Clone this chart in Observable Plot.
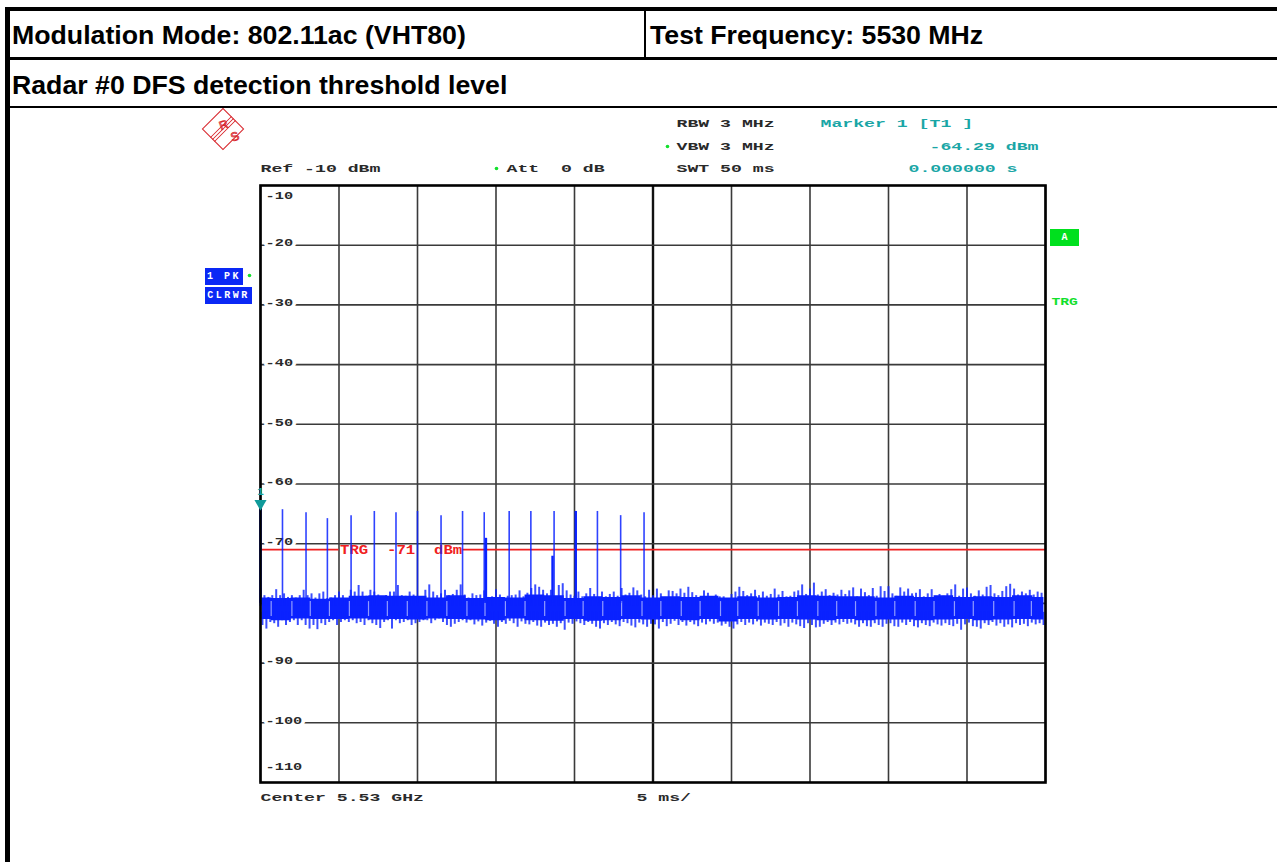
<!DOCTYPE html>
<html>
<head>
<meta charset="utf-8">
<script src="https://cdn.jsdelivr.net/npm/d3@7"></script>
<script src="https://cdn.jsdelivr.net/npm/@observablehq/plot@0.6"></script>
<style>
html,body{margin:0;padding:0;background:#fff;overflow:hidden}
#page{position:relative;width:1277px;height:862px;overflow:hidden}
#head{position:absolute;left:0;top:0;width:1277px;height:862px;z-index:2;font-family:"Liberation Sans",Arial,sans-serif;font-weight:bold;font-size:26.7px;color:#000}
.bar{position:absolute;background:#000}
.hd{position:absolute;white-space:nowrap;line-height:30px}
.badge{position:absolute;z-index:3;font-family:"Liberation Mono",monospace;font-weight:bold;font-size:10px;color:#fff;text-align:center}
svg{display:block}
</style>
</head>
<body>
<div id="page">
  <div id="head">
    <div class="bar" style="left:5px;top:7px;width:1272px;height:4px"></div>
    <div class="bar" style="left:5px;top:7px;width:5px;height:855px"></div>
    <div class="bar" style="left:10px;top:57px;width:1267px;height:3px"></div>
    <div class="bar" style="left:10px;top:106px;width:1267px;height:2px"></div>
    <div class="bar" style="left:644px;top:11px;width:2px;height:46px"></div>
    <div class="hd" id="h1" style="left:12px;top:20px"></div>
    <div class="hd" id="h2" style="left:650px;top:20px"></div>
    <div class="hd" id="h3" style="left:12px;top:70px"></div>
  </div>
  <div class="badge" style="left:205px;top:268px;width:38px;height:17px;line-height:17px;background:#0a28f5;letter-spacing:2.5px">1 PK</div>
  <div class="badge" style="left:205px;top:287px;width:47px;height:17px;line-height:17px;background:#0a28f5;letter-spacing:2.5px">CLRWR</div>
  <div class="badge" style="left:1050px;top:229px;width:29px;height:17px;line-height:17px;background:#00e01e">A</div>
  <div id="chart" style="position:absolute;left:0;top:108px"></div>
</div>
<script>
const headerLeft = "Modulation Mode: 802.11ac (VHT80)";
const headerRight = "Test Frequency: 5530 MHz";
const headerSub = "Radar #0 DFS detection threshold level";

const gridTimes = [0,5,10,15,20,25,30,35,40,45,50];
const gridLevels = [-20,-30,-40,-50,-60,-70,-80,-90,-100];

const pulseTimes = [0,1.4,2.9,4.26,5.77,7.25,8.63,10.0,11.5,12.87,14.25,15.84,17.22,18.7,20.08,21.46,22.94,24.43];
const pulseTops = [-64.29,-64.3,-64.8,-65.8,-65.3,-64.6,-64.8,-64.6,-65.3,-64.6,-64.8,-64.6,-64.6,-64.6,-64.6,-64.6,-65.3,-64.8];
const thickPulseTimes = [0,14.36,18.6,20.08];
const thickPulseTops = [-64.29,-69.1,-72.1,-64.6];

const notchTimes = [0.68,2.0,3.17,4.39,5.66,6.88,8.08,9.35,10.6,11.87,13.15,14.3,15.6,16.85,18.1,19.4,20.55,21.8,23.0,24.3,25.5,26.8,28.0,29.3,30.4,31.7,33.0,34.2,35.5,36.7,37.9,39.2,40.4,41.7,42.9,44.2,45.4,46.7,48.0,49.1];
const humpTimes = [0.1,1.3,2.6,3.8,5.0,6.3,7.5,8.7,10.0,11.2,12.5,13.7,15.0,16.2,17.5,18.7,20.0,21.2,22.4,23.6,24.9,26.1,27.4,28.6,29.8,31.0,32.3,33.6,34.8,36.1,37.3,38.5,39.8,41.0,42.3,43.5,44.8,46.0,47.3,48.5,49.9];
const humpHigh = [-79.1,-79.2,-79.1,-79.3,-79.1,-78.8,-78.7,-78.8,-78.8,-79.1,-78.7,-79.2,-79.0,-79.1,-78.6,-78.7,-79.2,-78.9,-79.0,-78.7,-79.1,-78.9,-79.0,-78.8,-79.1,-78.9,-79.1,-79.0,-78.7,-78.8,-78.9,-78.9,-79.1,-78.8,-79.0,-78.7,-79.0,-78.9,-79.0,-78.7,-79.0];
const humpLow = [-82.7,-82.9,-82.6,-82.7,-82.7,-82.6,-82.8,-82.7,-82.8,-82.6,-82.7,-82.8,-82.9,-82.6,-82.9,-83.0,-82.7,-83.0,-82.9,-82.7,-82.8,-82.7,-82.9,-82.7,-83.1,-82.7,-82.8,-82.7,-82.8,-82.9,-82.7,-82.9,-82.8,-82.8,-82.9,-82.8,-82.7,-82.9,-82.8,-82.7,-82.8];

const noiseHigh = [
-77.6,-78.7,-79.0,-78.7,-77.7,-78.7,-78.4,-79.0,-78.7,-79.1,-78.7,-77.8,-78.7,-78.4,-79.1,-78.4,-78.1,-79.2,-79.1,-78.7,-78.1,-78.7,-79.2,-77.8,-78.1,-77.0,-78.1,-78.8,-77.8,-78.1,-78.6,-79.2,-78.7,-78.1,-78.1,-77.0,-78.7,-78.8,-78.1,-78.6,-79.2,-79.2,-77.8,-76.9,-78.1,-78.7,-78.4,-77.8,-78.7,-78.5,
-77.8,-76.9,-78.6,-79.1,-78.4,-78.7,-78.6,-77.9,-79.0,-78.9,-77.7,-78.6,-79.1,-78.8,-78.7,-78.6,-77.9,-78.9,-78.3,-77.5,-76.9,-77.3,-77.8,-78.4,-77.8,-78.9,-77.0,-76.7,-77.9,-78.6,-78.8,-78.1,-78.9,-78.4,-77.5,-78.5,-79.0,-78.1,-78.9,-78.5,-78.1,-78.8,-77.5,-78.6,-78.3,-77.4,-77.9,-78.6,-78.9,-77.8,
-78.7,-77.6,-78.4,-79.0,-77.9,-78.0,-78.4,-77.6,-78.3,-77.3,-78.2,-78.7,-79.0,-77.9,-78.3,-78.9,-78.6,-78.9,-78.9,-79.2,-78.5,-78.1,-77.3,-78.0,-78.7,-78.4,-77.8,-78.7,-78.1,-78.8,-78.5,-77.6,-78.6,-78.0,-78.9,-78.8,-78.1,-77.9,-76.9,-78.5,-77.6,-76.6,-78.6,-78.1,-77.7,-78.7,-78.3,-78.6,-77.8,-78.5,
-77.9,-77.4,-78.9,-77.6,-78.2,-78.7,-77.5,-78.8,-77.2,-78.0,-77.2,-78.4,-78.8,-77.4,-78.1,-77.6,-78.4,-78.3,-77.7,-78.9,-78.4,-77.7,-78.8,-78.5,-78.8,-78.4,-77.7,-76.9,-78.8,-77.6,-77.4,-78.4,-78.8,-77.9,-78.6,-77.3,-77.0,-78.4,-78.7,-78.0,-77.2,-76.8,-77.6,-78.6,-78.1,-78.4,-77.8,-78.6,-78.1,-78.3
];
const noiseLow = [
-83.7,-84.3,-83.2,-83.4,-84.0,-82.9,-83.7,-83.2,-82.9,-83.7,-82.9,-83.7,-84.3,-83.7,-84.4,-83.4,-83.7,-83.2,-82.9,-83.7,-83.2,-82.9,-83.2,-82.9,-83.4,-83.2,-83.7,-82.9,-83.4,-83.7,-84.2,-83.2,-82.9,-84.3,-82.9,-83.4,-83.2,-82.9,-83.7,-83.4,-83.2,-82.9,-82.9,-83.4,-82.9,-82.6,-83.2,-83.7,-84.0,-83.5,
-83.2,-82.9,-83.3,-82.9,-83.6,-83.1,-83.8,-83.3,-83.0,-83.5,-84.0,-83.2,-83.5,-83.0,-83.4,-84.0,-83.1,-83.5,-83.6,-83.2,-83.8,-84.0,-83.3,-83.7,-83.5,-84.0,-83.4,-84.5,-83.3,-83.5,-83.1,-83.4,-83.7,-83.2,-83.5,-84.0,-84.3,-83.4,-83.7,-83.2,-83.6,-83.9,-83.2,-83.4,-83.8,-84.1,-83.3,-83.6,-84.0,-83.5,
-83.6,-84.3,-83.2,-83.9,-83.5,-83.0,-83.7,-83.2,-83.8,-83.2,-83.6,-83.9,-83.3,-83.6,-83.1,-83.5,-83.3,-83.8,-83.5,-84.0,-84.3,-83.6,-83.2,-83.7,-83.3,-83.6,-83.1,-83.8,-83.3,-83.5,-83.7,-83.2,-83.8,-83.4,-84.0,-83.3,-83.6,-83.9,-84.2,-83.4,-83.7,-84.1,-84.0,-83.5,-83.2,-83.7,-83.3,-83.6,-83.2,-83.5,
-83.3,-83.6,-84.0,-83.4,-83.9,-84.0,-83.4,-83.7,-84.0,-83.5,-83.4,-83.9,-84.0,-83.3,-83.7,-83.2,-83.9,-84.1,-83.4,-83.7,-83.9,-83.3,-83.6,-83.8,-83.4,-83.7,-83.9,-83.5,-84.5,-83.6,-83.3,-83.9,-84.0,-84.3,-83.4,-83.7,-83.2,-83.8,-83.4,-84.0,-83.6,-84.1,-83.4,-83.7,-83.5,-83.9,-83.3,-83.6,-83.4,-83.7
];

const triggerLevel = -71;
const triggerSpans = [{x1:0,x2:5},{x1:12.9,x2:50}];
const markerTime = 0, markerLevel = -64.29;

document.getElementById("h1").textContent = headerLeft;
document.getElementById("h2").textContent = headerRight;
document.getElementById("h3").textContent = headerSub;

const noiseRows = noiseHigh.map((h,i)=>({t:i*0.25,h,l:noiseLow[i]}));
const coreRows = humpTimes.map((t,i)=>({t,h:humpHigh[i],l:humpLow[i]}));
const pulses = pulseTimes.map((t,i)=>({t,top:pulseTops[i]}));
const thick = thickPulseTimes.map((t,i)=>({t,top:thickPulseTops[i]}));

const mono = '"Liberation Mono",monospace';
const ink = "#2a2a2a", teal = "#1aa6a6", blue = "#0a22ff", red = "#f02020", green = "#12e02c";
const label = (s,dx,dy,fill,extra={}) => Plot.text([s],{text:d=>d,frameAnchor:"top-left",dx,dy,textAnchor:"start",lineAnchor:"middle",fill,fontFamily:mono,fontWeight:"bold",fontSize:11,className:"adv109",...extra});
const star = (dx,dy) => Plot.dot([0],{frameAnchor:"top-left",dx,dy,r:1.8,fill:green});
const logoStroke = {frameAnchor:"top-left",stroke:"#d8262c",strokeWidth:1};
const spoke = {draw(c,l){c.moveTo(0,0);c.lineTo(0,-l);}};

const chart = Plot.plot({
  width:1277,height:754,
  marginLeft:260,marginRight:232,marginTop:77,marginBottom:80,
  x:{domain:[0,50],axis:null},
  y:{domain:[-110,-10],axis:null},
  style:{background:"#fff"},
  marks:[
    Plot.ruleX(gridTimes.filter(t=>t!==25),{stroke:"#3a3a3a",strokeWidth:1.6}),
    Plot.ruleX([25],{stroke:"#111",strokeWidth:2.4}),
    Plot.ruleY(gridLevels,{stroke:"#3a3a3a",strokeWidth:1.6}),
    Plot.text(gridLevels,{x:()=>0,y:d=>d,text:d=>String(d),dx:5,dy:-2,textAnchor:"start",fill:ink,stroke:"#fff",strokeWidth:5,paintOrder:"stroke",fontFamily:mono,fontWeight:"bold",fontSize:10,className:"adv92"}),
    Plot.text([-10],{x:()=>0,y:d=>d,text:d=>String(d),dx:5,dy:10,textAnchor:"start",fill:ink,fontFamily:mono,fontWeight:"bold",fontSize:10,className:"adv92"}),
    Plot.text([-110],{x:()=>0,y:d=>d,text:d=>String(d),dx:5,dy:-16,textAnchor:"start",fill:ink,fontFamily:mono,fontWeight:"bold",fontSize:10,className:"adv92"}),
    Plot.ruleY(triggerSpans,{y:()=>triggerLevel,x1:"x1",x2:"x2",stroke:red,strokeWidth:1.7}),
    Plot.text(["TRG\u00a0\u00a0-71\u00a0\u00a0dBm"],{x:()=>5,y:()=>triggerLevel,text:d=>d,dx:1,textAnchor:"start",fill:red,fontFamily:mono,fontWeight:"bold",fontSize:12,className:"adv97"}),
    Plot.areaY(coreRows,{x:"t",y1:"l",y2:"h",curve:"step",fill:blue}),
    Plot.ruleX(noiseRows,{x:"t",y1:-80.5,y2:"h",stroke:blue,strokeWidth:2,strokeOpacity:.8}),
    Plot.ruleX(noiseRows,{x:d=>d.t+0.125,y1:-81.5,y2:"l",stroke:blue,strokeWidth:2,strokeOpacity:.8}),
    Plot.ruleX(notchTimes,{y1:-79.7,y2:-82.2,stroke:"#fff",strokeWidth:1.2,strokeOpacity:.55}),
    Plot.ruleX(pulses,{x:"t",y1:-80,y2:"top",stroke:blue,strokeWidth:1.6,strokeOpacity:.85}),
    Plot.ruleX(thick,{x:"t",y1:-80,y2:"top",stroke:blue,strokeWidth:2.4}),
    Plot.frame({stroke:"#000",strokeWidth:2.6}),
    Plot.dot([0],{x:()=>markerTime,y:()=>markerLevel,symbol:"triangle",rotate:180,r:4.5,dy:-6,fill:"#0f9a9a"}),
    Plot.text(["1"],{x:()=>markerTime,y:()=>markerLevel,text:d=>d,dy:-18,fill:teal,fontFamily:mono,fontWeight:"bold",fontSize:11}),
    label("Ref\u00a0-10\u00a0dBm",0,-17,ink),
    label("Att\u00a0\u00a00\u00a0dB",246,-17,ink),
    label("RBW\u00a03\u00a0MHz",416,-62,ink),
    label("VBW\u00a03\u00a0MHz",416,-39,ink),
    label("SWT\u00a050\u00a0ms",416,-17,ink),
    label("Marker\u00a01\u00a0[T1\u00a0]",560,-62,teal),
    label("-64.29\u00a0dBm",669,-39,teal),
    label("0.000000\u00a0s",648,-17,teal),
    label("Center\u00a05.53\u00a0GHz",0,612,ink),
    label("5\u00a0ms/",376,612,ink),
    label("TRG",791,116,green,{className:"adv88"}),
    star(-11,90),star(407,-39),star(236,-17),
    Plot.dot([0],{frameAnchor:"top-left",dx:-37.5,dy:-56.5,symbol:"square",r:16.4,rotate:45,fill:"none",...logoStroke}),
    Plot.vector([0],{dx:-37.5,dy:-56.5,shape:spoke,length:29,rotate:45,anchor:"middle",...logoStroke}),
    Plot.vector([0],{dx:-39.5,dy:-58.5,shape:spoke,length:29,rotate:45,anchor:"middle",...logoStroke}),
    Plot.vector([0],{dx:-35.5,dy:-54.5,shape:spoke,length:29,rotate:45,anchor:"middle",...logoStroke}),
    Plot.text(["R"],{text:d=>d,frameAnchor:"top-left",dx:-42.3,dy:-63.3,rotate:-20,fill:"none",stroke:"#d8262c",strokeWidth:.8,fontFamily:'"Liberation Sans",sans-serif',fontSize:12}),
    Plot.text(["S"],{text:d=>d,frameAnchor:"top-left",dx:-31,dy:-51.7,rotate:-20,fill:"none",stroke:"#d8262c",strokeWidth:.8,fontFamily:'"Liberation Sans",sans-serif',fontSize:12})
  ]
});
const advances = {adv109:10.9,adv92:9.2,adv88:8.8,adv97:9.4};
for (const [cls,adv] of Object.entries(advances)) {
  chart.querySelectorAll("."+cls+" text").forEach(t=>{
    const n = t.textContent.length;
    t.setAttribute("textLength",(n*adv).toFixed(1));
    t.setAttribute("lengthAdjust","spacingAndGlyphs");
  });
}
document.getElementById("chart").appendChild(chart);
</script>
</body>
</html>
